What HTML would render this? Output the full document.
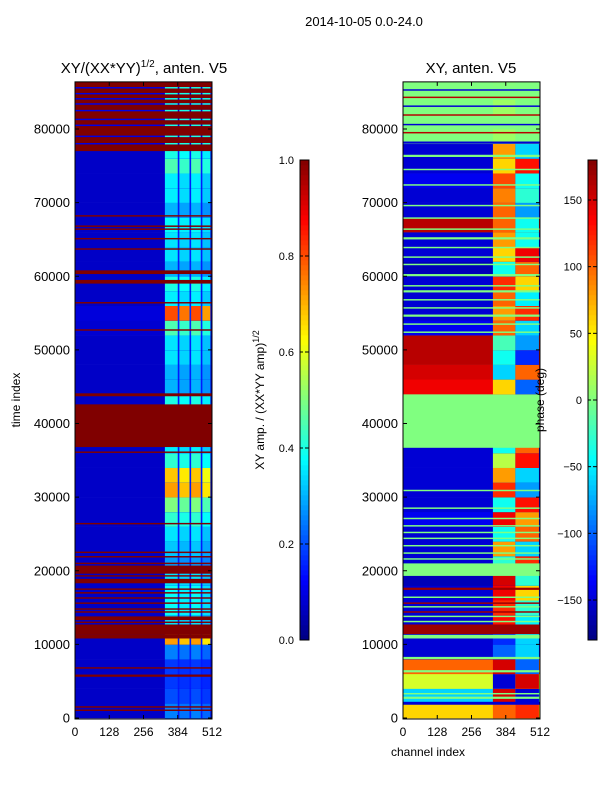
<!DOCTYPE html>
<html><head><meta charset="utf-8">
<style>
body{margin:0;background:#fff;}
svg{display:block;font-family:"Liberation Sans",sans-serif;}
</style></head>
<body>
<svg id="fig" width="600" height="800" xmlns="http://www.w3.org/2000/svg">
<rect x="0" y="0" width="600" height="800" fill="#fff"/>
<text x="364" y="26" font-size="13" text-anchor="middle">2014-10-05 0.0-24.0</text>
<text x="144" y="73" font-size="15" text-anchor="middle">XY/(XX*YY)<tspan font-size="10" dy="-6">1/2</tspan><tspan dy="6">, anten. V5</tspan></text>
<text x="471" y="73" font-size="15" text-anchor="middle">XY, anten. V5</text>
<text x="20" y="400" font-size="12" text-anchor="middle" transform="rotate(-90 20 400)">time index</text>
<text x="428" y="756" font-size="12" text-anchor="middle">channel index</text>
<text x="264" y="400" font-size="12" text-anchor="middle" transform="rotate(-90 264 400)">XY amp. / (XX*YY amp)<tspan font-size="9" dy="-5">1/2</tspan></text>
<g id="left"></g>
<g id="right"></g>
<g id="axes"></g>
<text x="544" y="400" font-size="12" text-anchor="middle" transform="rotate(-90 544 400)">phase (deg)</text>
</svg>
<script>
const binSize = 2000;
const leftLow = [0.07,0.07,0.07,0.07,0.07,0.07,0.07,0.07,0.07,0.07,0.07,0.07,0.07,0.07,0.07,0.07,0.07,0.07,0.07,0.07,0.07,0.07,0.07,0.07,0.07,0.07,0.08,0.09,0.07,0.07,0.07,0.07,0.07,0.07,0.07,0.07,0.07,0.07,0.07,0.07,0.07,0.07,0.07,0.07];
const leftBand = [0.25,0.2,0.18,0.18,0.25,0.72,0.35,0.38,0.38,0.35,0.28,0.32,0.35,0.42,0.5,0.72,0.68,0.42,0.36,0.4,0.4,0.4,0.3,0.3,0.35,0.35,0.45,0.8,0.36,0.4,0.3,0.35,0.35,0.38,0.3,0.36,0.36,0.45,0.4,0.28,0.28,0.28,0.28,0.28];
const leftFlags = [[950,1150],[1400,1600],[5600,5900],[6700,6900],[10800,11400],[11400,12700],[12900,13100],[13300,13800],[14300,14500],[14700,14900],[15500,15700],[16200,16400],[16900,17100],[17400,17600],[18300,18900],[19200,19400],[19600,20700],[20900,21100],[21800,22000],[22400,22600],[26300,26500],[36000,36200],[36800,42600],[43700,44100],[52600,52800],[56300,56500],[59000,59500],[60300,60800],[63600,63800],[65000,65200],[66300,66500],[66700,66900],[68100,68300],[77000,86400]];
const leftGaps = [[77900,78100],[78900,79100],[80400,80600],[81200,81400],[82400,82600],[83300,83500],[84000,84200],[84700,84900],[85500,85700]];
const rightLow = [60,-60,30,100,-150,-150,-150,-150,-150,-160,-150,-150,-150,-140,-150,-150,-150,-150,-150,0,0,0,140,150,160,160,-140,-150,-150,-150,-160,-150,-150,160,-150,-150,-140,-150,-150,0,0,0,0,0];
const rightBandA = [100,150,-150,150,-100,-120,130,120,140,150,-30,80,-40,140,-40,120,80,20,-40,0,0,0,60,-60,-40,-20,100,80,100,120,-40,60,80,100,100,90,110,60,80,10,0,10,0,10];
const rightBandB = [120,-150,150,-100,-60,-60,-50,-30,60,-30,120,-60,100,80,130,-80,-60,130,100,0,0,0,-100,100,-120,-80,-60,120,-50,60,100,140,-40,-40,-80,-30,-40,130,-60,0,0,0,0,0];
const rightStripes = [[1800,2200,-150],[2600,2900,0],[3200,3400,0],[6200,6500,0],[8000,8300,0],[10800,11300,0],[11400,12700,170],[13000,13200,0],[13700,13900,0],[14300,14500,170],[15000,15200,0],[15500,15700,170],[16300,16500,0],[17400,17700,170],[19300,21000,0],[21500,21700,0],[22300,22500,0],[23300,23500,0],[24300,24500,0],[25100,25300,0],[26000,26200,0],[27000,27200,0],[28400,28600,0],[30800,31000,0],[36700,43000,0],[43200,43600,0],[52300,52500,0],[53400,53600,0],[54500,54800,0],[55600,55800,0],[56700,56900,0],[57800,58100,0],[58600,58800,0],[60000,60300,0],[61500,61700,0],[62500,62700,0],[63800,64000,0],[65000,65300,0],[66300,66500,0],[67800,68000,0],[69500,69700,0],[72300,72500,0],[74400,74600,0],[76200,76500,0],[78000,78300,-150],[79400,79600,160],[80500,80700,-150],[81800,82000,160],[83000,83200,-150],[84200,84400,160],[85200,85400,-150],[86000,86300,0]];
const xTicks = [0,128,256,384,512];
const yTicks = [0,10000,20000,30000,40000,50000,60000,70000,80000];
const ampTicks = [0.0,0.2,0.4,0.6,0.8,1.0];
const phaseTicks = [-150,-100,-50,0,50,100,150];

const NS = "http://www.w3.org/2000/svg";
const tMax = 86400;
function yT(t){return 718 - t*0.0073625;}
function xC(c, x0){return x0 + c*137/512;}
function jet(v){v=Math.max(0,Math.min(1,v));
  const r=Math.max(0,Math.min(1,1.5-Math.abs(4*v-3)));
  const g=Math.max(0,Math.min(1,1.5-Math.abs(4*v-2)));
  const b=Math.max(0,Math.min(1,1.5-Math.abs(4*v-1)));
  return `rgb(${Math.round(r*255)},${Math.round(g*255)},${Math.round(b*255)})`;}
function ph(d){return jet((d+180)/360);}
function rect(g,x,y,w,h,fill,name){const r=document.createElementNS(NS,'rect');
  r.setAttribute('x',x);r.setAttribute('y',y);r.setAttribute('width',w);r.setAttribute('height',h);r.setAttribute('fill',fill);
  
  
  g.appendChild(r);return r;}
const subBands=[[336,384,1],[390,428,0.95],[434,470,1],[476,506,0.9]];
const L=document.getElementById('left'), R=document.getElementById('right'), A=document.getElementById('axes');
function band(t0,t1){const a=yT(Math.min(t1,tMax)), b=yT(t0);return [a,b-a];}
for(let i=0;i<leftLow.length;i++){
  const [y,h]=band(i*binSize,(i+1)*binSize);
  rect(L,xC(0,75),y,xC(512,75)-75,h+0.3,jet(leftLow[i]),'amp-cell-low');
  rect(L,xC(336,75),y,xC(506,75)-xC(336,75),h+0.3,jet(leftLow[i]+0.08),'amp-cell-gap');
  subBands.forEach(s=>rect(L,xC(s[0],75),y,xC(s[1],75)-xC(s[0],75),h+0.3,jet(leftBand[i]*s[2]),'amp-cell-band'));
}
leftFlags.forEach(f=>{const [y,h]=band(f[0],f[1]);rect(L,75,y,137,h,jet(1),'flagged-row');});
leftGaps.forEach(f=>{const [y,h]=band(f[0],f[1]);rect(L,75,y,137,h,jet(0.1),'unflagged-row');
  subBands.forEach(s=>rect(L,xC(s[0],75),y,xC(s[1],75)-xC(s[0],75),h,jet(0.4),'amp-cell-band'));});
for(let i=0;i<rightLow.length;i++){
  const [y,h]=band(i*binSize,(i+1)*binSize);
  rect(R,403,y,137,h+0.3,ph(rightLow[i]),'phase-cell-low');
  rect(R,xC(336,403),y,xC(420,403)-xC(336,403),h+0.3,ph(rightBandA[i]),'phase-cell-band-a');
  rect(R,xC(420,403),y,xC(508,403)-xC(420,403),h+0.3,ph(rightBandB[i]),'phase-cell-band-b');
}
rightStripes.forEach(f=>{const [y,h]=band(f[0],f[1]);rect(R,403,y,137,h,ph(f[2]),'phase-stripe');});
function line(x1,y1,x2,y2,name){const l=document.createElementNS(NS,'line');
  l.setAttribute('x1',x1);l.setAttribute('y1',y1);l.setAttribute('x2',x2);l.setAttribute('y2',y2);l.setAttribute('stroke','#000');l.setAttribute('stroke-width',1);
  
  
  A.appendChild(l);}
function text(x,y,s,anchor,size,name){const t=document.createElementNS(NS,'text');
  t.setAttribute('x',x);t.setAttribute('y',y);t.setAttribute('text-anchor',anchor);t.setAttribute('font-size',size);t.textContent=s;
  
  
  A.appendChild(t);}
const topY=yT(tMax);
[75,403].forEach(x0=>{
  const fr=rect(A,x0,topY,137,718-topY+1,'none','panel-frame');fr.setAttribute('stroke','#000');
  xTicks.forEach(c=>{const x=xC(c,x0);line(x,719,x,715,'x-tick');line(x,topY,x,topY+4,'x-tick');
    text(x,736,String(c),'middle',12,'x-tick-label');});
  yTicks.forEach(t=>{const y=yT(t);line(x0,y,x0+4,y,'y-tick');line(x0+137,y,x0+133,y,'y-tick');
    text(x0-5,y+4.5,String(t),'end',13,'y-tick-label');});
});
function cbar(x0,fn,ticks,tmin,tmax,fmt,name){
  for(let k=0;k<96;k++){const v=(k+0.5)/96;
    rect(A,x0,640-(k+1)*5,9,5.3,fn(v),name+'-segment');}
  const fr=rect(A,x0,160,9,480,'none',name+'-frame');fr.setAttribute('stroke','#000');
  ticks.forEach(t=>{const y=640-(t-tmin)/(tmax-tmin)*480;line(x0+9,y,x0+5,y,name+'-tick');line(x0,y,x0+3,y,name+'-tick');
    text(x0-6,y+4,fmt(t),'end',11,name+'-tick-label');});
}
cbar(300,jet,ampTicks,0,1,t=>t.toFixed(1),'amp-colorbar');
cbar(588,jet,phaseTicks,-180,180,t=>String(t).replace('-','\u2212'),'phase-colorbar');
</script>
</body></html>
